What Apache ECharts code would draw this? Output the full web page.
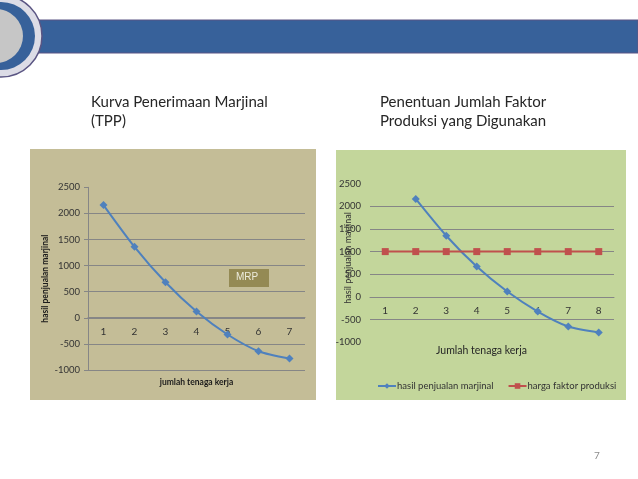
<!DOCTYPE html>
<html>
<head>
<meta charset="utf-8">
<script src="https://cdn.jsdelivr.net/npm/echarts@6/dist/echarts.min.js"></script>
<style>
html,body{margin:0;padding:0;background:#fff;}
#c{width:638px;height:479px;}
</style>
</head>
<body>
<div id="c"></div>
<script>
// ---- data ----
var leftCategories = ['1', '2', '3', '4', '5', '6', '7'];
var leftMRP = [2160, 1360, 680, 120, -320, -640, -780];

var rightCategories = ['1', '2', '3', '4', '5', '6', '7', '8'];
var rightMRP = [null, 2160, 1350, 670, 120, -320, -650, -780];
var rightPrice = [1000, 1000, 1000, 1000, 1000, 1000, 1000, 1000];

var yTicks = { min: -1000, max: 2500, interval: 500 };

var leftTitleLines = ['Kurva Penerimaan Marjinal', '(TPP)'];
var rightTitleLines = ['Penentuan Jumlah Faktor', 'Produksi yang Digunakan'];
var leftYName = 'hasil penjualan marjinal';
var leftXName = 'jumlah tenaga kerja';
var rightYName = 'hasil penjualan marjinal';
var rightXName = 'Jumlah tenaga kerja';
var seriesNames = ['hasil penjualan marjinal', 'harga faktor produksi'];
var boxLabel = 'MRP';
var pageNumber = '7';

// ---- chart ----
var FONT = 'Lato, "Open Sans", sans-serif';
var GRID_C = '#868686';
var plain = function (v) { return String(v); };
var chart = echarts.init(document.getElementById('c'), null, {renderer: 'canvas'});

var option = {
  animation: false,
  backgroundColor: '#ffffff',
  textStyle: {fontFamily: FONT},
  graphic: [
    // header bar
    {type: 'rect', shape: {x: 0, y: 20, width: 638, height: 33}, style: {fill: '#37619A', stroke: '#5a5583', lineWidth: 1.2}, z: 1},
    {type: 'circle', shape: {cx: 1, cy: 36, r: 41}, style: {fill: '#dcdce6', stroke: '#5a5583', lineWidth: 1.5}, z: 2},
    {type: 'circle', shape: {cx: 1, cy: 36, r: 34}, style: {fill: '#37619A'}, z: 3},
    {type: 'circle', shape: {cx: -4, cy: 36, r: 27}, style: {fill: '#c6c6c6'}, z: 4},
    // chart backgrounds
    {type: 'rect', shape: {x: 30, y: 149, width: 286, height: 251}, style: {fill: '#C4BD97'}, z: -10},
    {type: 'rect', shape: {x: 336, y: 150, width: 290, height: 250}, style: {fill: '#C3D69B'}, z: -10},
    // slide titles
    {type: 'text', left: 91, top: 93, style: {text: leftTitleLines.join('\n'), font: '15px ' + FONT, fill: '#262626', lineHeight: 19}},
    {type: 'text', left: 380, top: 93, style: {text: rightTitleLines.join('\n'), font: '15px ' + FONT, fill: '#262626', lineHeight: 19}},
    // MRP box
    {type: 'rect', shape: {x: 229, y: 269, width: 40, height: 18}, style: {fill: '#948A54'}, z: 5},
    {type: 'text', left: 236, top: 272, style: {text: boxLabel, font: '10px "Liberation Sans", Arial, sans-serif', fill: '#ecebdc'}, z: 6},
    // right x axis title
    {type: 'text', left: 436, top: 345, style: {text: rightXName, font: '10.5px ' + FONT, fill: '#262626'}},
    // page number
    {type: 'text', left: 594, top: 451, style: {text: pageNumber, font: '10px ' + FONT, fill: '#8c8c8c'}}
  ],
  legend: {
    left: 372, top: 376,
    itemWidth: 18, itemHeight: 7, itemGap: 14,
    textStyle: {fontSize: 9.5, color: '#333', fontFamily: FONT, padding: [0, 0, 0, -4]},
    data: seriesNames
  },
  grid: [
    {left: 88, right: 333, top: 187.3, bottom: 109, containLabel: false},
    {left: 370, right: 24, top: 183.5, bottom: 136.6, containLabel: false}
  ],
  xAxis: [
    {
      type: 'category', gridIndex: 0, data: leftCategories, boundaryGap: true,
      position: 'bottom', offset: -52.3,
      axisLine: {onZero: false, lineStyle: {color: GRID_C, width: 1}},
      axisTick: {show: false},
      axisLabel: {color: '#333', fontSize: 10, margin: 9, fontFamily: FONT},
      name: leftXName, nameLocation: 'middle', nameGap: 60, nameMoveOverlap: false,
      nameTextStyle: {fontWeight: 'bold', fontSize: 8.5, color: '#1a1a1a', fontFamily: FONT}
    },
    {
      type: 'category', gridIndex: 1, data: rightCategories, boundaryGap: true,
      position: 'bottom', offset: -45.4,
      axisLine: {onZero: false, lineStyle: {color: GRID_C, width: 1}},
      axisTick: {show: false},
      axisLabel: {color: '#333', fontSize: 10, margin: 9, fontFamily: FONT}
    }
  ],
  yAxis: [
    {
      type: 'value', gridIndex: 0, min: yTicks.min, max: yTicks.max, interval: yTicks.interval,
      axisLine: {show: true, lineStyle: {color: GRID_C}},
      axisTick: {show: true, length: 4, lineStyle: {color: GRID_C}},
      axisLabel: {color: '#333', fontSize: 9.5, margin: 8, fontFamily: FONT, formatter: plain},
      splitLine: {show: true, lineStyle: {color: [GRID_C, GRID_C, GRID_C, GRID_C, GRID_C, GRID_C, GRID_C, 'rgba(0,0,0,0)'], width: 1}},
      name: leftYName, nameLocation: 'middle', nameRotate: 90, nameGap: 38, nameMoveOverlap: false,
      nameTextStyle: {fontWeight: 'bold', fontSize: 8.5, color: '#1a1a1a', fontFamily: FONT}
    },
    {
      type: 'value', gridIndex: 1, min: yTicks.min, max: yTicks.max, interval: yTicks.interval,
      axisLine: {show: false},
      axisTick: {show: false},
      axisLabel: {color: '#333', fontSize: 9.5, margin: 9, fontFamily: FONT, formatter: plain},
      splitLine: {show: true, lineStyle: {color: ['rgba(0,0,0,0)', GRID_C, GRID_C, GRID_C, GRID_C, GRID_C, GRID_C, 'rgba(0,0,0,0)'], width: 1}},
      name: rightYName, nameLocation: 'middle', nameRotate: 90, nameGap: 17, nameMoveOverlap: false,
      nameTextStyle: {fontSize: 9, color: '#333', fontFamily: FONT, padding: [0, 0, 0, 10]}
    }
  ],
  series: [
    {
      type: 'line', name: 'MRP-left', xAxisIndex: 0, yAxisIndex: 0, data: leftMRP,
      smooth: 0.25, symbol: 'diamond', symbolSize: 8,
      lineStyle: {color: '#4F81BD', width: 2}, itemStyle: {color: '#4F81BD'}
    },
    {
      type: 'line', name: seriesNames[0], xAxisIndex: 1, yAxisIndex: 1, data: rightMRP,
      smooth: 0.25, symbol: 'diamond', symbolSize: 8,
      lineStyle: {color: '#4F81BD', width: 2}, itemStyle: {color: '#4F81BD'}
    },
    {
      type: 'line', name: seriesNames[1], xAxisIndex: 1, yAxisIndex: 1, data: rightPrice,
      symbol: 'rect', symbolSize: 7,
      lineStyle: {color: '#C0504D', width: 2}, itemStyle: {color: '#C0504D'}
    }
  ]
};
chart.setOption(option);
</script>
</body>
</html>
